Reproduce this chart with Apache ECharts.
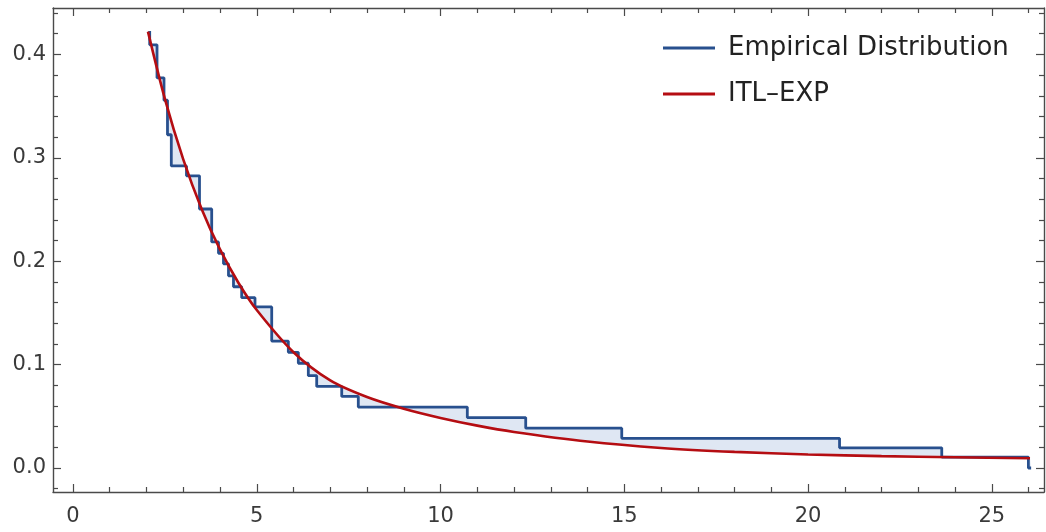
<!DOCTYPE html>
<html><head><meta charset="utf-8">
<script src="https://cdn.jsdelivr.net/npm/echarts@6/dist/echarts.min.js"></script>
<style>html,body{margin:0;padding:0;background:#fff}#c{width:1046px;height:532px}</style>
</head><body><div id="c"></div>
<script>
// Empirical step function: each level starts at empX[i]
const empX = [2.087, 2.087, 2.286, 2.476, 2.571, 2.675, 3.088, 3.442, 3.774, 3.959, 4.095, 4.231, 4.367, 4.590, 4.952, 5.407, 5.859, 6.131, 6.403, 6.631, 7.312, 7.763, 10.729, 12.318, 14.931, 20.857, 23.638, 25.995, 26.07];
const empY = [0.4226, 0.4093, 0.3774, 0.3557, 0.3223, 0.2922, 0.2826, 0.2505, 0.2187, 0.2076, 0.1975, 0.1859, 0.1753, 0.1647, 0.1558, 0.1228, 0.1119, 0.1013, 0.0893, 0.0789, 0.0692, 0.0589, 0.0488, 0.0385, 0.0287, 0.0195, 0.0106, 0.0, 0.0];
// ITL-EXP fitted curve
const fitX = [2.04, 2.5, 3, 3.5, 4, 4.5, 5, 6, 7, 8, 9, 10, 11, 12, 14, 16, 18, 20, 22, 24, 26.04];
const fitY = [0.422, 0.357, 0.2985, 0.2506, 0.2114, 0.1792, 0.1528, 0.1120, 0.0847, 0.0686, 0.0573, 0.0484, 0.0410, 0.0349, 0.0256, 0.0194, 0.0156, 0.0131, 0.0115, 0.0104, 0.0095];
const xTicks = [0, 5, 10, 15, 20, 25];
const yTicks = [0, 0.1, 0.2, 0.3, 0.4];
const xMinor = [];
for (let i = 1; i <= 26; i++) if (i % 5 !== 0) xMinor.push(i);
const yMinor = [];
for (let k = -1; k <= 22; k++) if (k % 5 !== 0) yMinor.push(+(k * 0.02).toFixed(2));

const X_MIN = -0.544, X_MAX = 26.42, Y_MIN = -0.0232, Y_MAX = 0.4449;
const FRAME = '#4a4a4a';
const tickStyle = {color: FRAME, width: 1.2};
const labelFont = {fontFamily: 'DejaVu Sans', fontSize: 21, color: '#3a3a3a'};

function xAx(pos, major, labels) {
  return {
    type: 'value', min: X_MIN, max: X_MAX, position: pos,
    axisLine: {show: major, onZero: false, lineStyle: {color: FRAME, width: 1.4}},
    axisTick: {show: true, inside: true, length: major ? 8 : 5, customValues: major ? xTicks : xMinor, lineStyle: tickStyle},
    axisLabel: labels ? Object.assign({show: true, customValues: xTicks, margin: 14}, labelFont) : {show: false},
    splitLine: {show: false}
  };
}
function yAx(pos, major, labels) {
  return {
    type: 'value', min: Y_MIN, max: Y_MAX, position: pos,
    axisLine: {show: major, onZero: false, lineStyle: {color: FRAME, width: 1.4}},
    axisTick: {show: true, inside: true, length: major ? 8 : 5, customValues: major ? yTicks : yMinor, lineStyle: tickStyle},
    axisLabel: labels ? Object.assign({show: true, customValues: yTicks, margin: 7, formatter: v => v.toFixed(1)}, labelFont) : {show: false},
    splitLine: {show: false}
  };
}

const chart = echarts.init(document.getElementById('c'), null, {renderer: 'canvas'});
chart.setOption({
  animation: false,
  backgroundColor: '#fff',
  grid: {left: 53, right: 2, top: 8, bottom: 40, containLabel: false},
  legend: {
    orient: 'vertical', left: 658, top: 29, icon: 'rect', itemWidth: 52, itemHeight: 3, itemGap: 18,
    selectedMode: false,
    textStyle: {fontFamily: 'DejaVu Sans', fontSize: 26, color: '#222', padding: [0, 0, 0, 8], lineHeight: 28},
    data: ['Empirical Distribution', 'ITL–EXP']
  },
  xAxis: [xAx('bottom', true, true), xAx('bottom', false, false), xAx('top', true, false), xAx('top', false, false)],
  yAxis: [yAx('left', true, true), yAx('left', false, false), yAx('right', true, false), yAx('right', false, false)],
  series: [
    {
      type: 'custom', name: 'fill', silent: true, z: 1,
      data: [[0, 0]],
      renderItem: function (params, api) {
        const pts = [];
        for (let i = 0; i < empX.length; i++) {
          pts.push(api.coord([empX[i], empY[i]]));
          if (i + 1 < empX.length) pts.push(api.coord([empX[i + 1], empY[i]]));
        }
        for (let j = fitX.length - 1; j >= 0; j--) pts.push(api.coord([fitX[j], fitY[j]]));
        return {type: 'polygon', shape: {points: pts}, style: {fill: '#dfe7f3', stroke: null}};
      }
    },
    {
      type: 'line', name: 'Empirical Distribution', step: 'end', showSymbol: false, symbol: 'none', z: 3,
      color: '#28508e',
      lineStyle: {color: '#28508e', width: 2.8},
      data: empX.map((x, i) => [x, empY[i]])
    },
    {
      type: 'line', name: 'ITL–EXP', smooth: 0.3, showSymbol: false, symbol: 'none', z: 4,
      color: '#b50d12',
      lineStyle: {color: '#b50d12', width: 2.6},
      data: fitX.map((x, i) => [x, fitY[i]])
    }
  ]
});
</script>
</body></html>
